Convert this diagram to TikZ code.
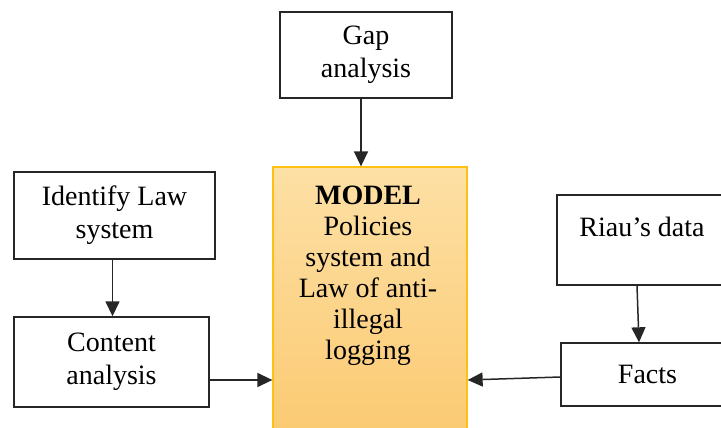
\documentclass[tikz,border=0pt]{standalone}
\usepackage{fontspec}
\setmainfont{Liberation Serif}
\usetikzlibrary{arrows.meta,shadings}
\definecolor{modeltop}{RGB}{253,224,165}
\definecolor{modelbot}{RGB}{251,201,112}
\definecolor{modelborder}{RGB}{255,192,20}
\begin{document}
\begin{tikzpicture}[x=1pt,y=-1pt,
  box/.style={draw=black!85, line width=1.4pt, inner sep=0pt, align=center,
    font=\fontsize{28}{33}\selectfont},
  txt/.style={inner sep=0pt, align=center, font=\fontsize{28}{31}\selectfont},
  arr/.style={draw=black!85, line width=1.5pt, -{Triangle[length=15pt,width=14pt]}}]
\useasboundingbox (0,0) rectangle (721,428);
\clip (0,0) rectangle (721,428);
\node[box, minimum width=172pt, minimum height=86pt] (gap) at (366,55) {Gap\\analysis};
\node[draw=modelborder, line width=1.3pt, top color=modeltop, bottom color=modelbot,
  minimum width=194pt, minimum height=280pt, inner sep=0pt] (model) at (370,307) {};
\node[txt] (modeltext) at (368,276) {\textbf{MODEL}\\Policies\\system and\\Law of anti-\\illegal\\logging};
\node[box, minimum width=201pt, minimum height=87pt] (ident) at (114.5,215.5) {Identify Law\\system};
\node[box, minimum width=195pt, minimum height=90pt] (content) at (111.5,362) {Content\\analysis};
\node[box, minimum width=170pt, minimum height=90pt] (riau) at (642,240) {};
\node[txt] (riautext) at (642,227) {Riau’s data};
\node[box, minimum width=173pt, minimum height=63pt] (facts) at (647.5,374.5) {Facts};
\draw[arr] ([xshift=-5pt]gap.south) -- ([xshift=-5pt]gap.south |- model.north);
\draw[arr] ([xshift=-2pt]ident.south) -- ([xshift=-2pt]ident.south |- content.north);
\draw[arr] ([yshift=-18pt]content.east) -- ([yshift=-18pt]content.east -| model.west);
\draw[arr] ([xshift=-5pt]riau.south) -- ([xshift=-8.5pt]facts.north);
\draw[arr] ([yshift=-2.5pt]facts.west) -- ([yshift=-5.5pt]facts.west -| model.east);
\end{tikzpicture}
\end{document}
